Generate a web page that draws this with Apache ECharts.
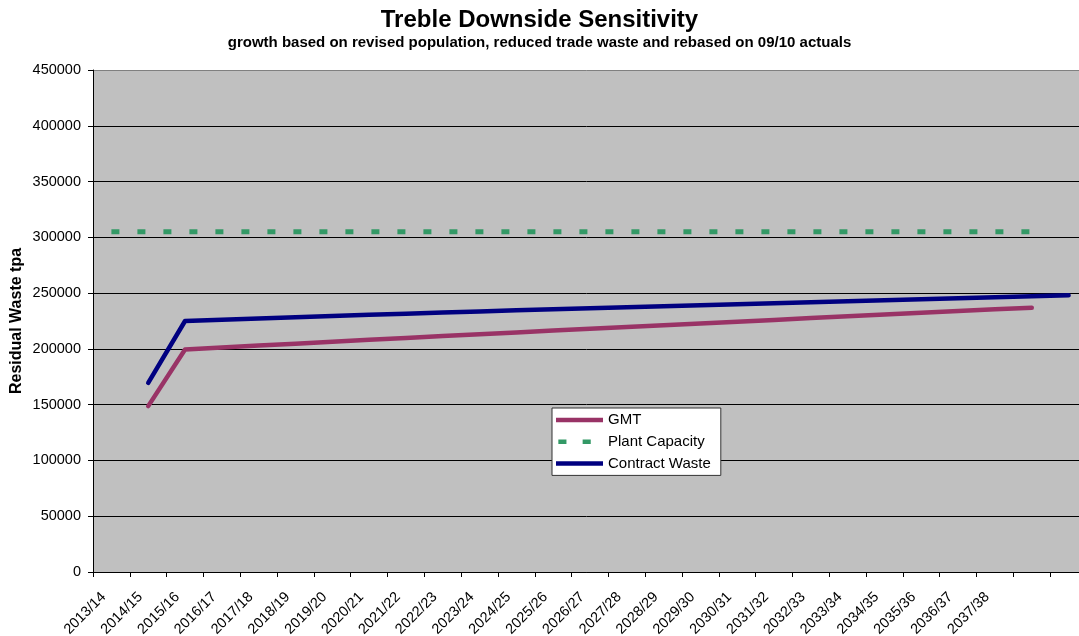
<!DOCTYPE html>
<html>
<head>
<meta charset="utf-8">
<script src="https://cdn.jsdelivr.net/npm/echarts@6/dist/echarts.min.js"></script>
<style>
html,body{margin:0;padding:0;background:#fff;}
#chart{width:1079px;height:636px;}
</style>
</head>
<body>
<div id="chart"></div>
<script>
var categories = ['2013/14','2014/15','2015/16','2016/17','2017/18','2018/19','2019/20','2020/21','2021/22','2022/23','2023/24','2024/25','2025/26','2026/27','2027/28','2028/29','2029/30','2030/31','2031/32','2032/33','2033/34','2034/35','2035/36','2036/37','2037/38','',''];
var gmt = [null,148700,199500,201300,203000,204700,206400,208100,209800,211500,213200,214800,216400,218000,219600,221200,222800,224400,226000,227600,229200,230800,232400,234000,235500,236900,null];
var plantCapacity = [305000,305000,305000,305000,305000,305000,305000,305000,305000,305000,305000,305000,305000,305000,305000,305000,305000,305000,305000,305000,305000,305000,305000,305000,305000,305000,null];
var contractWaste = [null,169500,225000,226200,227300,228400,229500,230600,231600,232600,233600,234600,235500,236400,237300,238200,239100,240000,240900,241800,242700,243600,244500,245400,246300,247200,248000];
var yTicks = {min:0, max:450000, interval:50000};

var font = 'Liberation Sans, Arial, sans-serif';
var chart = echarts.init(document.getElementById('chart'));
var splitColors = [];
for (var i = 0; i < 9; i++) splitColors.push('#000');
splitColors.push('#808080');

chart.setOption({
  backgroundColor: '#fff',
  animation: false,
  title: [
    {text: 'Treble Downside Sensitivity', left: 'center', top: 3,
     textStyle: {fontFamily: font, fontSize: 24, fontWeight: 'bold', color: '#000'}},
    {text: 'growth based on revised population, reduced trade waste and rebased on 09/10 actuals', left: 'center', top: 30,
     textStyle: {fontFamily: font, fontSize: 15, fontWeight: 'bold', color: '#000'}}
  ],
  legend: {
    orient: 'vertical', left: 552, top: 408,
    padding: [4, 10, 4, 4],
    itemWidth: 47, itemHeight: 4.5, itemGap: 5.7,
    backgroundColor: '#fff', borderColor: '#333', borderWidth: 1,
    textStyle: {fontFamily: font, fontSize: 15, color: '#000', lineHeight: 16},
    data: [
      {name: 'GMT', icon: 'rect'},
      {name: 'Plant Capacity', icon: 'path://M0,0h9v5h-9zM27,0h9v5h-9zM47,0h0.01v5h-0.01z'},
      {name: 'Contract Waste', icon: 'rect'}
    ]
  },
  grid: {left: 93, right: -8, top: 70, bottom: 64, show: true, backgroundColor: '#c0c0c0', borderWidth: 0,
         containLabel: false, outerBoundsMode: 'none'},
  xAxis: {
    type: 'category', data: categories, boundaryGap: true,
    axisLine: {lineStyle: {color: '#000', width: 1}},
    axisTick: {show: true, length: 5, inside: false, lineStyle: {color: '#000'}},
    axisLabel: {rotate: 45, interval: 0, margin: 15, padding: [0, 11, 0, 0],
                fontFamily: font, fontSize: 14.5, color: '#000'},
    splitLine: {show: false}
  },
  yAxis: {
    type: 'value', min: yTicks.min, max: yTicks.max, interval: yTicks.interval,
    name: 'Residual Waste tpa', nameLocation: 'middle', nameGap: 68, nameMoveOverlap: false,
    nameTextStyle: {fontFamily: font, fontSize: 16, fontWeight: 'bold', color: '#000'},
    axisLine: {show: true, lineStyle: {color: '#000', width: 1}},
    axisTick: {show: true, length: 5, lineStyle: {color: '#000'}},
    axisLabel: {margin: 12, fontFamily: font, fontSize: 14.5, color: '#000',
                formatter: function (v) { return String(v); }},
    splitLine: {show: true, lineStyle: {color: splitColors, width: 1}}
  },
  series: [
    {name: 'GMT', type: 'line', data: gmt, symbol: 'none', showSymbol: false,
     lineStyle: {color: '#993366', width: 4.5, cap: 'round', join: 'round'}, itemStyle: {color: '#993366'}},
    {name: 'Plant Capacity', type: 'line', data: plantCapacity, symbol: 'none', showSymbol: false,
     lineStyle: {color: '#339966', width: 5, type: [8, 18], cap: 'butt'}, itemStyle: {color: '#339966'}},
    {name: 'Contract Waste', type: 'line', data: contractWaste, symbol: 'none', showSymbol: false,
     lineStyle: {color: '#000080', width: 4.5, cap: 'round', join: 'round'}, itemStyle: {color: '#000080'}}
  ]
});
</script>
</body>
</html>
